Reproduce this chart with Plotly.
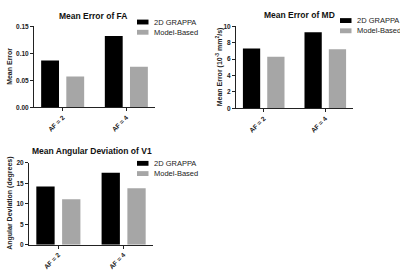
import plotly.graph_objects as go

categories = ["AF = 2", "AF = 4"]
series_names = ["2D GRAPPA", "Model-Based"]

fa_grappa = [0.087, 0.132]
fa_model = [0.057, 0.075]
md_grappa = [7.3, 9.3]
md_model = [6.3, 7.2]
v1_grappa = [14.2, 17.6]
v1_model = [11.1, 13.8]

titles = ["Mean Error of FA", "Mean Error of MD", "Mean Angular Deviation of V1"]
ytitles = ["Mean Error", "Mean Error (10<sup>-3</sup> mm<sup>2</sup>/s)", "Angular Deviation (degrees)"]
yranges = [[0, 0.15], [0, 10], [0, 20]]
ydticks = [0.05, 2, 5]
ytickformats = [".2f", "d", "d"]

colors = ["#000000", "#a6a6a6"]
FONT = "Liberation Sans, Arial, sans-serif"
TXT = "#222222"

W, H = 400, 275
def px(x): return x / W
def py(y): return 1 - y / H

panels = [
    dict(x=(34, 155), y=(23, 106), data=(fa_grappa, fa_model), title_xy=(93, 12), legend_xy=(137, 18.5), ytitle_x=10),
    dict(x=(236, 353), y=(23, 107), data=(md_grappa, md_model), title_xy=(299, 11), legend_xy=(340, 17), ytitle_x=219),
    dict(x=(29, 153), y=(163, 247), data=(v1_grappa, v1_model), title_xy=(92, 151), legend_xy=(137, 163.5), ytitle_x=10),
]

fig = go.Figure()
layout = dict(
    width=W, height=H, margin=dict(l=0, r=0, t=0, b=0),
    paper_bgcolor="white", plot_bgcolor="white",
    barmode="group", bargap=0.21, bargroupgap=0.29,
    font=dict(family=FONT, size=7, color=TXT),
    showlegend=False,
)
annotations = []
shapes = []
for i, p in enumerate(panels):
    sfx = "" if i == 0 else str(i + 1)
    for j in range(2):
        fig.add_trace(go.Bar(
            x=categories, y=p["data"][j], name=series_names[j],
            marker=dict(color=colors[j], line=dict(width=0)),
            xaxis="x" + sfx, yaxis="y" + sfx,
        ))
    layout["xaxis" + sfx] = dict(
        domain=[px(p["x"][0]), px(p["x"][1])], anchor="y" + sfx,
        showline=True, linecolor=TXT, linewidth=1,
        ticks="outside", ticklen=3, tickcolor=TXT,
        tickangle=-45, tickfont=dict(size=6.5, family=FONT, color=TXT, weight="bold"),
        showgrid=False, range=[-0.45, 1.45],
    )
    layout["yaxis" + sfx] = dict(
        domain=[py(p["y"][1]), py(p["y"][0])], anchor="x" + sfx,
        range=yranges[i], dtick=ydticks[i], tickformat=ytickformats[i],
        showline=True, linecolor=TXT, linewidth=1,
        ticks="outside", ticklen=3, tickcolor=TXT,
        tickfont=dict(size=6.5, family=FONT, color=TXT, weight="bold"),
        showgrid=False, zeroline=False,
    )
    # y-axis title
    annotations.append(dict(
        text="<b>" + ytitles[i] + "</b>", x=px(p["ytitle_x"]), y=py((p["y"][0] + p["y"][1]) / 2),
        xref="paper", yref="paper", showarrow=False, textangle=-90,
        xanchor="center", yanchor="middle",
        font=dict(size=7, family=FONT, color=TXT),
    ))
    # panel title
    annotations.append(dict(
        text="<b>" + titles[i] + "</b>", x=px(p["title_xy"][0]), y=py(p["title_xy"][1]),
        xref="paper", yref="paper", showarrow=False, xanchor="center", yanchor="middle",
        font=dict(size=8.5, family=FONT, color="#111"),
    ))
    # legend
    lx, ly = p["legend_xy"]
    for j in range(2):
        yy = ly + j * 10.5
        shapes.append(dict(
            type="rect", xref="paper", yref="paper",
            x0=px(lx), x1=px(lx + 11.5), y0=py(yy - 2.5), y1=py(yy + 2.5),
            fillcolor=colors[j], line=dict(width=0),
        ))
        annotations.append(dict(
            text=series_names[j], x=px(lx + 14.5), y=py(yy),
            xref="paper", yref="paper", showarrow=False, xanchor="left", yanchor="middle",
            font=dict(size=7.5, family=FONT, color=TXT),
        ))
layout["annotations"] = annotations
layout["shapes"] = shapes
fig.update_layout(**layout)
fig.write_html(
    "out.html",
    config={"displayModeBar": False},
    post_script="document.body.style.margin='0';document.body.style.overflow='hidden';",
)
